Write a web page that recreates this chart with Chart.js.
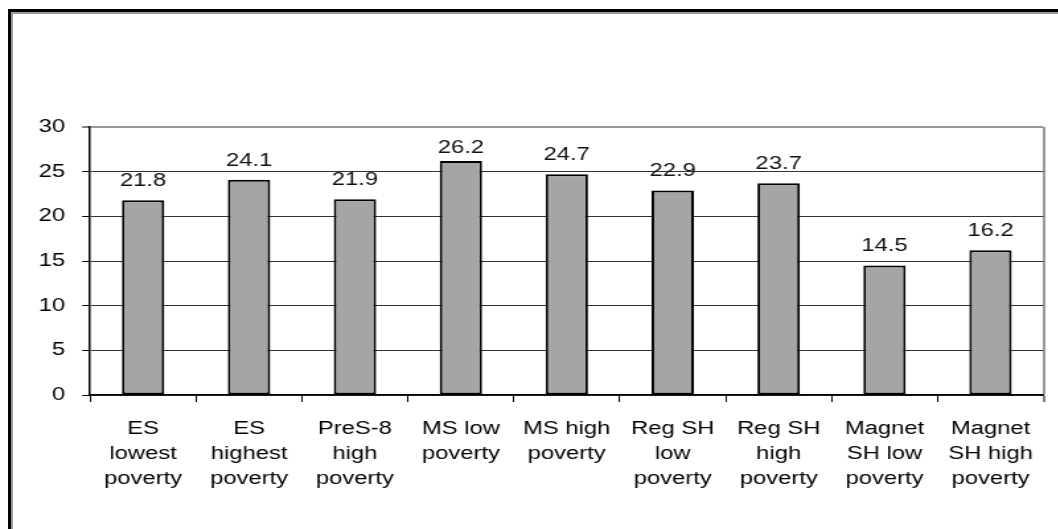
<!DOCTYPE html>
<html lang="en">
<head>
    <meta charset="UTF-8">
    <title>Poverty bar chart</title>
    <script src="https://cdn.jsdelivr.net/npm/chart.js"></script>
    <style>
        body {
            margin: 0;
            background: #fff;
            width: 1058px;
            height: 529px;
            overflow: hidden;
            position: relative;
        }
        .frame {
            position: absolute;
            left: 8px;
            top: 9px;
            right: 0;
            bottom: 0;
            border-top: 3px solid #000;
            border-left: 3px solid #000;
            box-shadow: inset 2px 2px 0 #999;
        }
        /* the original picture is stretched sideways, so draw narrow and scale */
        .chart-box {
            position: absolute;
            left: 0;
            top: 0;
            width: 801.5px;
            height: 529px;
            transform: scaleX(1.32);
            transform-origin: 0 0;
        }
    </style>
</head>
<body>
    <div class="frame"></div>
    <div class="chart-box">
        <canvas id="povertyChart"></canvas>
    </div>

    <script>
        const categories = [
            ['ES', 'lowest', 'poverty'],
            ['ES', 'highest', 'poverty'],
            ['PreS-8', 'high', 'poverty'],
            ['MS low', 'poverty'],
            ['MS high', 'poverty'],
            ['Reg SH', 'low', 'poverty'],
            ['Reg SH', 'high', 'poverty'],
            ['Magnet', 'SH low', 'poverty'],
            ['Magnet', 'SH high', 'poverty']
        ];
        const values = [21.8, 24.1, 21.9, 26.2, 24.7, 22.9, 23.7, 14.5, 16.2];
        const yTicks = [0, 5, 10, 15, 20, 25, 30];

        const fontFamily = 'Arial, "Liberation Sans", sans-serif';

        // values written above the bars
        const valueLabels = {
            id: 'valueLabels',
            afterDatasetsDraw(chart) {
                const ctx = chart.ctx;
                const meta = chart.getDatasetMeta(0);
                ctx.save();
                ctx.font = '18px ' + fontFamily;
                ctx.fillStyle = '#111';
                ctx.textAlign = 'center';
                ctx.textBaseline = 'alphabetic';
                meta.data.forEach(function(bar, i) {
                    const y = Math.max(bar.y - 14, chart.chartArea.top + 26);
                    ctx.fillText(values[i].toFixed(1), bar.x, y);
                });
                ctx.restore();
            }
        };

        new Chart(document.getElementById('povertyChart'), {
            type: 'bar',
            data: {
                labels: categories,
                datasets: [{
                    data: values,
                    backgroundColor: '#a5a5a5',
                    borderColor: '#000',
                    borderWidth: 2,
                    borderSkipped: false,
                    categoryPercentage: 0.8,
                    barPercentage: 0.5
                }]
            },
            options: {
                responsive: true,
                maintainAspectRatio: false,
                animation: false,
                layout: {
                    padding: { top: 127, right: 12, left: 0, bottom: 0 }
                },
                plugins: {
                    legend: { display: false },
                    tooltip: { enabled: false }
                },
                scales: {
                    x: {
                        offset: true,
                        grid: {
                            drawOnChartArea: true,
                            color: ctx => ctx.type === 'tick' ? 'rgba(0,0,0,0)' : '#999',
                            lineWidth: ctx => ctx.type === 'tick' ? 1 : 2,
                            tickColor: '#000',
                            tickWidth: 1,
                            tickLength: 7
                        },
                        border: { display: true, color: '#000', width: 1.5 },
                        ticks: {
                            color: '#000',
                            maxRotation: 0,
                            autoSkip: false,
                            padding: 15,
                            font: { family: fontFamily, size: 18, lineHeight: 1.38 }
                        },
                        afterFit(scale) { scale.height = 134; }
                    },
                    y: {
                        min: 0,
                        max: 30,
                        afterBuildTicks(scale) {
                            scale.ticks = yTicks.map(v => ({ value: v }));
                        },
                        grid: {
                            color: ctx => ctx.tick && ctx.tick.value === 30 ? '#999' : '#333',
                            lineWidth: ctx => ctx.tick && ctx.tick.value === 30 ? 2 : 1,
                            tickColor: '#000',
                            tickWidth: 1,
                            tickLength: 6
                        },
                        border: { display: true, color: '#000', width: 1.5 },
                        ticks: {
                            color: '#000',
                            padding: 13,
                            font: { family: fontFamily, size: 18 }
                        },
                        afterFit(scale) { scale.width = 68.2; }
                    }
                }
            },
            plugins: [valueLabels]
        });
    </script>
</body>
</html>
